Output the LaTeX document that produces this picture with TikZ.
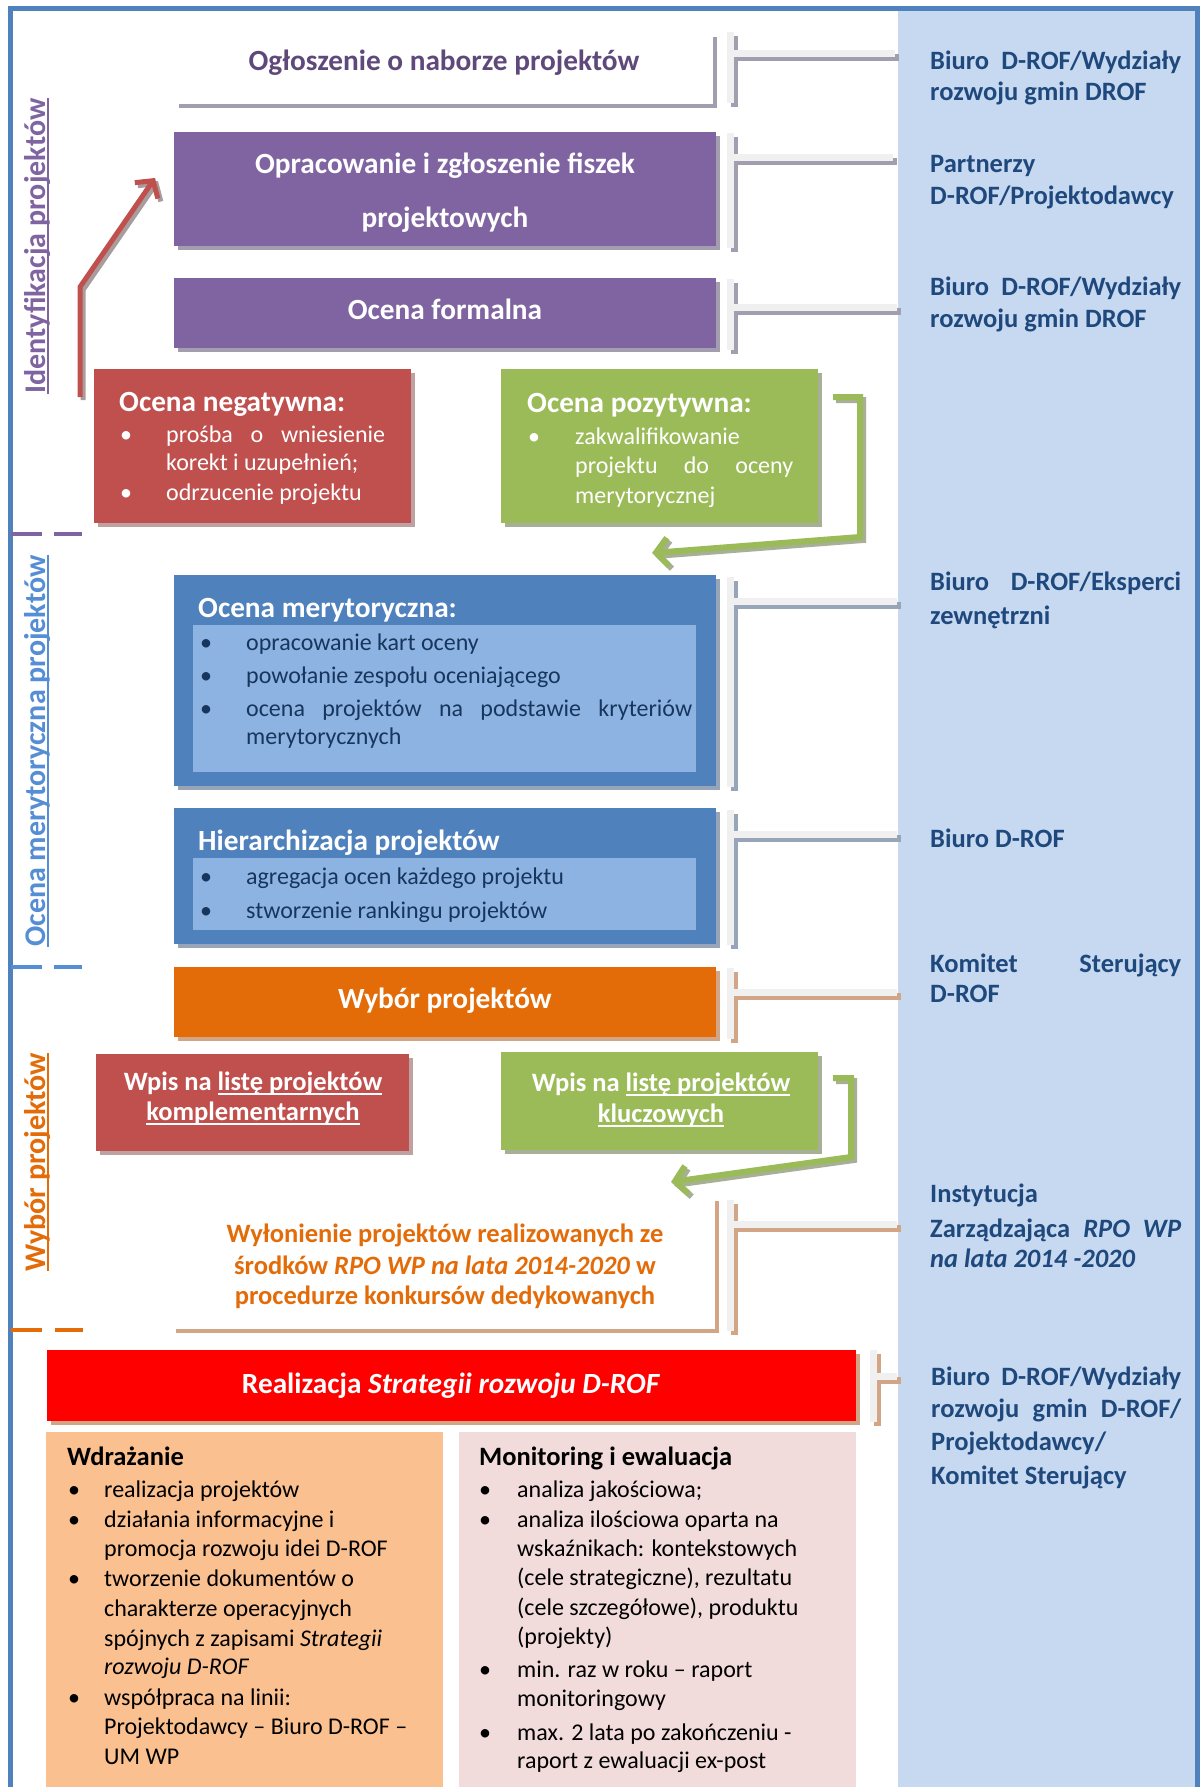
\documentclass[tikz,border=0pt]{standalone}
\usepackage{fontspec}
\setmainfont{Carlito}
\usetikzlibrary{arrows.meta,shadows}

\definecolor{cFrame}{HTML}{4F81BD}
\definecolor{cPanel}{HTML}{C6D9F1}
\definecolor{cPurple}{HTML}{8064A2}
\definecolor{cPurpleDk}{HTML}{5F497A}
\definecolor{cRed}{HTML}{C0504D}
\definecolor{cGreen}{HTML}{9BBB59}
\definecolor{cBlue}{HTML}{4F81BD}
\definecolor{cBlueLt}{HTML}{8DB3E2}
\definecolor{cSideBlue}{HTML}{558ED5}
\definecolor{cOrange}{HTML}{E36C09}
\definecolor{cBright}{HTML}{FF0000}
\definecolor{cPeach}{HTML}{FAC090}
\definecolor{cPink}{HTML}{F2DCDB}
\definecolor{cNavy}{HTML}{1F497D}
\definecolor{cInk}{HTML}{17365D}
\definecolor{cShPurple}{HTML}{A39DB0}
\definecolor{cShRed}{HTML}{BEA1A1}
\definecolor{cShGreen}{HTML}{A7AF96}
\definecolor{cShBlue}{HTML}{98A5B8}
\definecolor{cShTan}{HTML}{D3A587}
\definecolor{cShGray}{HTML}{A89C9C}
\definecolor{cLight}{HTML}{F0F0F0}

\newcommand\fBody{\fontsize{24}{29}\selectfont}
\newcommand\fHead{\fontsize{29.3}{35}\selectfont\bfseries}
\newcommand\fSub{\fontsize{26.5}{32}\selectfont\bfseries}
\newcommand\fSide{\fontsize{30}{36}\selectfont\bfseries}
\newcommand\bul[2]{\makebox[#1][l]{\textbullet}#2}
\newsavebox\myulbox
\newcommand\myul[1]{\leavevmode\sbox\myulbox{#1}\rlap{\rule[-4pt]{\wd\myulbox}{1.7pt}}\usebox\myulbox}
\newcommand\drawbrk[7]{%
  \coordinate (#1t) at (#2,#3);
  \coordinate (#1b) at (#2,#4);
  \coordinate (#1j) at (#2,#5);
  \coordinate (#1r) at (#6,#5);
  \draw[line width=7pt, draw=#7] ([xshift=4pt,yshift=-4pt]#1t) -- ([xshift=4pt,yshift=-4pt]#1b)
     ([xshift=4pt,yshift=-4pt]#1j) -- ([xshift=4pt,yshift=-4pt]#1r);
  \draw[line width=7pt, draw=cLight] (#1t) -- (#1b) (#1j) -- (#1r);
}

\begin{document}
\begin{tikzpicture}[x=1pt,y=-1pt, line join=miter,
  bx/.style 2 args={minimum width=#1pt, minimum height=#2pt, anchor=north west, inner sep=0pt, outer sep=0pt, draw=none},
  sh/.style={drop shadow={shadow xshift=4pt, shadow yshift=-4pt, fill=#1, opacity=1}},
  tl/.style={inner sep=0pt, anchor=base west},
  tc/.style={inner sep=0pt, anchor=base},
  fH/.style={font=\fHead, yshift=-8pt},
  fS/.style={font=\fSub, yshift=-7.5pt},
  fB/.style={font=\fBody, yshift=-6pt},
  barb/.style={-{Straight Barb[length=12pt,width=28pt]}},
  ]
\useasboundingbox (0,0) rectangle (1200,1787);
\fill[white] (0,0) rectangle (1200,1787);

% right panel and frame
\fill[cPanel] (898,9) rectangle (1197,1787);
\draw[cFrame, line width=5pt] (10.5,1787) -- (10.5,8.5) -- (1197.5,8.5) -- (1197.5,1787);

% side labels and separators
\node[rotate=90, anchor=base, inner sep=0pt, text=cPurple, font=\fSide] (sl1) at (45,246) {\myul{Identyfikacja projektów}};
\node[rotate=90, anchor=base, inner sep=0pt, text=cSideBlue, font=\fSide] (sl2) at (45,751) {\myul{Ocena merytoryczna projektów}};
\node[rotate=90, anchor=base, inner sep=0pt, text=cOrange, font=\fSide] (sl3) at (45,1162) {\myul{Wybór projektów}};
\draw[cPurple, line width=3.5pt] (11,534) -- (42,534) (54,534) -- (82,534);
\draw[cSideBlue, line width=3.5pt] (11,967) -- (42,967) (54,967) -- (82,967);
\draw[cOrange, line width=3.5pt] (11,1330) -- (42,1330) (55,1330) -- (83,1330);

% boxes
\node[bx={538}{71}, fill=white, sh=cShPurple] (b0) at (175,33) {};
\node[bx={542}{114}, fill=cPurple, sh=cShPurple] (b1) at (174,132) {};
\node[bx={542}{70}, fill=cPurple, sh=cShPurple] (b2) at (174,278) {};
\node[bx={317}{154}, fill=cRed, sh=cShRed] (b3) at (94,369) {};
\node[bx={317}{154}, fill=cGreen, sh=cShGreen] (b4) at (501,369) {};
\node[bx={542}{211}, fill=cBlue, sh=cShBlue] (b5) at (174,575) {};
\node[bx={503}{147}, fill=cBlueLt] (b5i) at (193,625) {};
\node[bx={542}{136}, fill=cBlue, sh=cShBlue] (b6) at (174,808) {};
\node[bx={503}{72}, fill=cBlueLt] (b6i) at (193,858) {};
\node[bx={542}{70}, fill=cOrange, sh=cShTan] (b7) at (174,967) {};
\node[bx={313}{97}, fill=cRed, sh=cShRed] (b8) at (96,1054) {};
\node[bx={317}{98}, fill=cGreen, sh=cShGreen] (b9) at (501,1052) {};
\node[bx={543}{132}, fill=white, sh=cShTan] (b10) at (172,1197) {};
\node[bx={809}{71}, fill=cBright, sh=cShTan] (b11) at (47,1350) {};
\node[bx={397}{355}, fill=cPeach] (b12) at (46,1432) {};
\node[bx={397}{355}, fill=cPink] (b13) at (459,1432) {};

% bracket connectors
\drawbrk{k1}{730}{32}{103}{54}{895}{cShPurple}
\drawbrk{k2}{730}{133}{248}{158}{893}{cShPurple}
\drawbrk{k3}{730}{279}{350}{307}{897}{cShPurple}
\drawbrk{k4}{730}{577}{787}{601}{897}{cShBlue}
\drawbrk{k5}{730}{810}{945}{834}{897}{cShBlue}
\drawbrk{k6}{730}{968}{1039}{992}{897}{cShTan}
\drawbrk{k7}{730}{1200}{1331}{1224}{897}{cShTan}
\drawbrk{k8}{873}{1350}{1422}{1376}{897}{cShTan}

% arrows
\coordinate (ras) at (80,397);
\coordinate (raa) at (80,287);
\coordinate (rae) at (155,178);
\draw[line width=5pt, cShGray, barb] ([xshift=3pt,yshift=-3pt]ras) -- ([xshift=3pt,yshift=-3pt]raa) -- ([xshift=3pt,yshift=-3pt]rae);
\draw[line width=5pt, cRed, barb] (ras) -- (raa) -- (rae);

\coordinate (gas) at (833,397);
\coordinate (gaa) at (860,397);
\coordinate (gab) at (860,537);
\coordinate (gae) at (652,553);
\draw[line width=6pt, cShGreen, barb] ([xshift=3pt,yshift=-3pt]gas) -- ([xshift=3pt,yshift=-3pt]gaa) -- ([xshift=3pt,yshift=-3pt]gab) -- ([xshift=3pt,yshift=-3pt]gae);
\draw[line width=6pt, cGreen, barb] (gas) -- (gaa) -- (gab) -- (gae);

\coordinate (gbs) at (833,1078);
\coordinate (gba) at (851,1078);
\coordinate (gbb) at (851,1157);
\coordinate (gbe) at (671,1182);
\draw[line width=6pt, cShGreen, barb] ([xshift=3pt,yshift=-3pt]gbs) -- ([xshift=3pt,yshift=-3pt]gba) -- ([xshift=3pt,yshift=-3pt]gbb) -- ([xshift=3pt,yshift=-3pt]gbe);
\draw[line width=6pt, cGreen, barb] (gbs) -- (gba) -- (gbb) -- (gbe);

% texts in boxes
\node[tc, text=cPurpleDk, fH] (t0) at (444,63) {Ogłoszenie o naborze projektów};
\node[tc, text=white, fH] (t1a) at (445,166) {Opracowanie i zgłoszenie fiszek};
\node[tc, text=white, fH] (t1b) at (445,220) {projektowych};
\node[tc, text=white, fH] (t2) at (445,311) {Ocena formalna};

\node[tl, text=white, fH] (t3) at (119,403) {Ocena negatywna:};
\node[tl, text=white, fB] (t3a) at (120,436) {\bul{46pt}{\makebox[219pt][s]{prośba o wniesienie}}};
\node[tl, text=white, fB] (t3b) at (166,464) {korekt i uzupełnień;};
\node[tl, text=white, fB] (t3c) at (120,494) {\bul{46pt}{odrzucenie projektu}};

\node[tl, text=white, fH] (t4) at (527,404) {Ocena pozytywna:};
\node[tl, text=white, fB] (t4a) at (528,438) {\bul{47pt}{zakwalifikowanie}};
\node[tl, text=white, fB] (t4b) at (575,467) {\makebox[218pt][s]{projektu do oceny}};
\node[tl, text=white, fB] (t4c) at (575,497) {merytorycznej};

\node[tl, text=white, fH] (t5) at (198,609) {Ocena merytoryczna:};
\node[tl, text=cInk, fB] (t5a) at (200,644) {\bul{46pt}{opracowanie kart oceny}};
\node[tl, text=cInk, fB] (t5b) at (200,677) {\bul{46pt}{powołanie zespołu oceniającego}};
\node[tl, text=cInk, fB] (t5c) at (200,710) {\bul{46pt}{\makebox[446pt][s]{ocena projektów na podstawie kryteriów}}};
\node[tl, text=cInk, fB] (t5d) at (246,738) {merytorycznych};

\node[tl, text=white, fH] (t6) at (198,842) {Hierarchizacja projektów};
\node[tl, text=cInk, fB] (t6a) at (200,878) {\bul{46pt}{agregacja ocen każdego projektu}};
\node[tl, text=cInk, fB] (t6b) at (200,912) {\bul{46pt}{stworzenie rankingu projektów}};

\node[tc, text=white, fH] (t7) at (445,1000) {Wybór projektów};

\node[tc, text=white, fS] (t8a) at (253,1083) {Wpis na \myul{listę projektów}};
\node[tc, text=white, fS] (t8b) at (253,1113) {\myul{komplementarnych}};
\node[tc, text=white, fS] (t9a) at (661,1084) {Wpis na \myul{listę projektów}};
\node[tc, text=white, fS] (t9b) at (661,1115) {\myul{kluczowych}};

\node[tc, text=cOrange, fS] (t10a) at (445,1235) {Wyłonienie projektów realizowanych ze};
\node[tc, text=cOrange, fS] (t10b) at (445,1267) {środków \textit{RPO WP na lata 2014-2020} w};
\node[tc, text=cOrange, fS] (t10c) at (445,1297) {procedurze konkursów dedykowanych};

\node[tc, text=white, fH] (t11) at (451,1385) {Realizacja \textit{Strategii rozwoju D-ROF}};

\node[tl, text=black, fS] (t12) at (67,1458) {Wdrażanie};
\node[tl, text=black, fB] (t12a) at (68,1491) {\bul{36pt}{realizacja projektów}};
\node[tl, text=black, fB] (t12b) at (68,1521) {\bul{36pt}{działania informacyjne i}};
\node[tl, text=black, fB] (t12c) at (104,1550) {promocja rozwoju idei D-ROF};
\node[tl, text=black, fB] (t12d) at (68,1580) {\bul{36pt}{tworzenie dokumentów o}};
\node[tl, text=black, fB] (t12e) at (104,1610) {charakterze operacyjnych};
\node[tl, text=black, fB] (t12f) at (104,1640) {spójnych z zapisami \textit{Strategii}};
\node[tl, text=black, fB] (t12g) at (104,1668) {\textit{rozwoju D-ROF}};
\node[tl, text=black, fB] (t12h) at (68,1699) {\bul{36pt}{współpraca na linii:}};
\node[tl, text=black, fB] (t12i) at (104,1728) {Projektodawcy – Biuro D-ROF –};
\node[tl, text=black, fB] (t12j) at (104,1758) {UM WP};

\node[tl, text=black, fS] (t13) at (479,1458) {Monitoring i ewaluacja};
\node[tl, text=black, fB] (t13a) at (479,1491) {\bul{38pt}{analiza jakościowa;}};
\node[tl, text=black, fB] (t13b) at (479,1521) {\bul{38pt}{analiza ilościowa oparta na}};
\node[tl, text=black, fB] (t13c) at (517,1550) {wskaźnikach: kontekstowych};
\node[tl, text=black, fB] (t13d) at (517,1579) {(cele strategiczne), rezultatu};
\node[tl, text=black, fB] (t13e) at (517,1609) {(cele szczegółowe), produktu};
\node[tl, text=black, fB] (t13f) at (517,1638) {(projekty)};
\node[tl, text=black, fB] (t13g) at (479,1671) {\bul{38pt}{min. raz w roku – raport}};
\node[tl, text=black, fB] (t13h) at (517,1700) {monitoringowy};
\node[tl, text=black, fB] (t13i) at (479,1734) {\bul{38pt}{max. 2 lata po zakończeniu -}};
\node[tl, text=black, fB] (t13j) at (517,1762) {raport z ewaluacji ex-post};

% right column
\node[tl, text=cNavy, fS] (r1a) at (930,62) {\makebox[251pt][s]{Biuro D-ROF/Wydziały}};
\node[tl, text=cNavy, fS] (r1b) at (930,93) {rozwoju gmin DROF};
\node[tl, text=cNavy, fS] (r2a) at (930,165) {Partnerzy};
\node[tl, text=cNavy, fS] (r2b) at (930,197) {D-ROF/Projektodawcy};
\node[tl, text=cNavy, fS] (r3a) at (930,288) {\makebox[251pt][s]{Biuro D-ROF/Wydziały}};
\node[tl, text=cNavy, fS] (r3b) at (930,320) {rozwoju gmin DROF};
\node[tl, text=cNavy, fS] (r4a) at (930,583) {\makebox[251pt][s]{Biuro D-ROF/Eksperci}};
\node[tl, text=cNavy, fS] (r4b) at (930,617) {zewnętrzni};
\node[tl, text=cNavy, fS] (r5) at (930,840) {Biuro D-ROF};
\node[tl, text=cNavy, fS] (r6a) at (930,965) {\makebox[251pt][s]{Komitet Sterujący}};
\node[tl, text=cNavy, fS] (r6b) at (930,995) {D-ROF};
\node[tl, text=cNavy, fS] (r7a) at (930,1195) {Instytucja};
\node[tl, text=cNavy, fS] (r7b) at (930,1230) {\makebox[251pt][s]{Zarządzająca \textit{RPO WP}}};
\node[tl, text=cNavy, fS] (r7c) at (930,1260) {\textit{na lata 2014 -2020}};
\node[tl, text=cNavy, fS] (r8a) at (931,1378) {\makebox[250pt][s]{Biuro D-ROF/Wydziały}};
\node[tl, text=cNavy, fS] (r8b) at (931,1410) {\makebox[250pt][s]{rozwoju gmin D-ROF/}};
\node[tl, text=cNavy, fS] (r8c) at (931,1443) {Projektodawcy/};
\node[tl, text=cNavy, fS] (r8d) at (931,1477) {Komitet Sterujący};
\end{tikzpicture}
\end{document}
